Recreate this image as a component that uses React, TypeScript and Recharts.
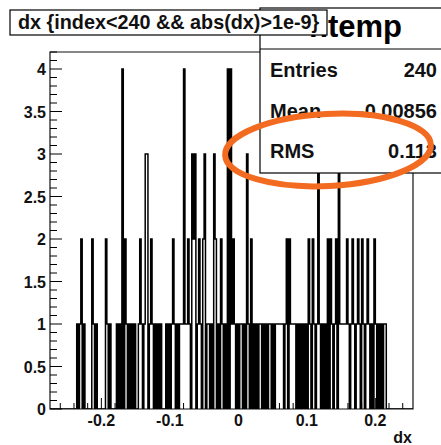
import { LineChart, Line, XAxis, YAxis, ReferenceArea } from "recharts"

// histogram htemp: dx {index<240 && abs(dx)>1e-9}
const X_RANGE = [-0.275, 0.255]
const Y_RANGE = [0, 4.2]
const HIST_START = -0.236
const BIN_W = 0.002

// bin contents, read left to right off the picture
const binCounts = [
  1, 0, 1, 2, 0, 1, 0, 0, 0, 0, 0, 2, 1, 0, 1, 0, 0, 0, 0, 0,
  0, 2, 1, 0, 1, 0, 0, 0, 0, 1, 0, 1, 0, 4, 0, 2, 1, 0, 1, 0,
  1, 0, 1, 0, 0, 1, 2, 1, 0, 1, 3, 3, 0, 1, 2, 1, 0, 1, 0, 1,
  0, 1, 0, 0, 0, 1, 0, 1, 0, 1, 2, 1, 0, 1, 0, 1, 1, 1, 4, 1,
  1, 2, 1, 0, 3, 2, 3, 0, 1, 2, 1, 0, 2, 3, 0, 1, 1, 0, 1, 0,
  3, 2, 0, 1, 0, 2, 1, 0, 1, 0, 4, 0, 4, 1, 2, 1, 0, 1, 0, 1,
  1, 0, 1, 0, 3, 1, 0, 2, 0, 1, 0, 1, 0, 1, 1, 0, 1, 0, 1, 0,
  1, 1, 0, 1, 0, 1, 1, 1, 1, 1, 1, 0, 1, 2, 0, 2, 1, 1, 1, 1,
  0, 1, 0, 1, 0, 1, 0, 1, 0, 2, 1, 0, 2, 1, 0, 1, 3, 1, 0, 1,
  0, 1, 0, 2, 0, 2, 1, 0, 1, 2, 0, 3, 1, 1, 1, 1, 1, 2, 1, 0,
  1, 2, 1, 0, 1, 2, 1, 0, 2, 1, 0, 1, 2, 1, 0, 1, 0, 2, 1, 0,
  1, 0, 1, 0, 1, 1,
]

const xMajorTicks = [-0.2, -0.1, 0, 0.1, 0.2]
const yMajorTicks = [0, 0.5, 1, 1.5, 2, 2.5, 3, 3.5, 4]

const titleText = "dx {index<240 && abs(dx)>1e-9}"
const statsName = "htemp"
const statsLabels = ["Entries", "Mean", "RMS"]
const statsValues = ["240", "-0.00856", "0.113"]

const W = 441
const H = 445
const FRAME = { left: 50, right: 413, top: 52, bottom: 409 }
const FONT = "'Liberation Sans', Arial, Helvetica, sans-serif"

const round3 = (v: number) => Math.round(v * 1000) / 1000

const histData = [
  { x: X_RANGE[0], y: 0 },
  ...binCounts.map((c, i) => ({ x: HIST_START + i * BIN_W, y: c })),
  { x: HIST_START + binCounts.length * BIN_W, y: 0 },
  { x: X_RANGE[1], y: 0 },
]

const xTicks: number[] = []
for (let i = -13; i <= 12; i++) xTicks.push(round3(i * 0.02))
for (const t of xMajorTicks) if (!xTicks.includes(t)) xTicks.push(t)
xTicks.sort((a, b) => a - b)

const yTicks: number[] = []
for (let i = 0; i <= 42; i++) yTicks.push(round3(i * 0.1))

const isMajor = (v: number, list: number[]) => list.some((m) => Math.abs(m - v) < 1e-6)

function fmt(v: number) {
  return String(round3(v))
}

function XTick(props: any) {
  const { x, payload } = props
  const v = payload.value
  const major = isMajor(v, xMajorTicks)
  return (
    <g>
      <line x1={x} x2={x} y1={FRAME.bottom} y2={FRAME.bottom - (major ? 11 : 6)} stroke="#000" />
      {major && (
        <text x={x} y={FRAME.bottom + 17} textAnchor="middle" fontFamily={FONT} fontWeight="bold" fontSize={16} fill="#111">
          {fmt(v)}
        </text>
      )}
    </g>
  )
}

function YTick(props: any) {
  const { y, payload } = props
  const v = payload.value
  const major = isMajor(v, yMajorTicks)
  return (
    <g>
      <line x1={FRAME.left} x2={FRAME.left + (major ? 12 : 7)} y1={y} y2={y} stroke="#000" />
      {major && (
        <text x={FRAME.left - 4} y={y + 6} textAnchor="end" fontFamily={FONT} fontWeight="bold" fontSize={16} fill="#111">
          {fmt(v)}
        </text>
      )}
    </g>
  )
}

export default function App() {
  return (
    <div style={{ position: "absolute", left: 0, top: 0, width: W, height: H, background: "#fff", overflow: "hidden" }}>
      <LineChart
        width={W}
        height={H}
        data={histData}
        margin={{ top: FRAME.top, right: W - FRAME.right, bottom: 0, left: 0 }}
      >
        <XAxis
          type="number"
          dataKey="x"
          domain={X_RANGE}
          allowDataOverflow
          ticks={xTicks}
          interval={0}
          height={H - FRAME.bottom}
          axisLine={false}
          tickLine={false}
          tick={<XTick />}
        />
        <YAxis
          type="number"
          domain={Y_RANGE}
          allowDataOverflow
          ticks={yTicks}
          interval={0}
          width={FRAME.left}
          axisLine={false}
          tickLine={false}
          tick={<YTick />}
        />
        <ReferenceArea x1={X_RANGE[0]} x2={X_RANGE[1]} y1={Y_RANGE[0]} y2={Y_RANGE[1]} fill="none" stroke="#111" strokeWidth={1.2} />
        <Line
          type="stepAfter"
          dataKey="y"
          stroke="#000"
          strokeWidth={1.5}
          dot={false}
          isAnimationActive={false}
        />
      </LineChart>

      <svg width={W} height={H} style={{ position: "absolute", left: 0, top: 0, pointerEvents: "none" }}>
        {/* stats box */}
        <rect x={260} y={8} width={200} height={165} fill="#fff" stroke="#000" strokeWidth={1.2} />
        <line x1={260} x2={460} y1={49} y2={49} stroke="#000" strokeWidth={1.2} />
        <text x={402} y={37} textAnchor="end" fontFamily={FONT} fontWeight="bold" fontSize={31} fill="#000">
          {statsName}
        </text>
        {statsLabels.map((label, i) => (
          <g key={label}>
            <text x={270} y={77 + i * 40.6} fontFamily={FONT} fontWeight="bold" fontSize={20} fill="#111">
              {label}
            </text>
            <text x={437} y={77 + i * 40.6} textAnchor="end" fontFamily={FONT} fontWeight="bold" fontSize={20} fill="#111">
              {statsValues[i]}
            </text>
          </g>
        ))}

        {/* title box */}
        <rect x={10} y={10} width={317} height={25} fill="#fff" stroke="#000" strokeWidth={1.2} />
        <text x={18} y={29} fontFamily={FONT} fontWeight="bold" fontSize={19.8} fill="#111">
          {titleText}
        </text>

        {/* axis title */}
        <text x={412} y={443} textAnchor="end" fontFamily={FONT} fontWeight="bold" fontSize={16} fill="#111">
          dx
        </text>

        {/* annotation */}
        <ellipse cx={328} cy={150} rx={103} ry={36} fill="none" stroke="#f26b21" strokeWidth={6} transform="rotate(-3 328 150)" />
      </svg>
    </div>
  )
}
